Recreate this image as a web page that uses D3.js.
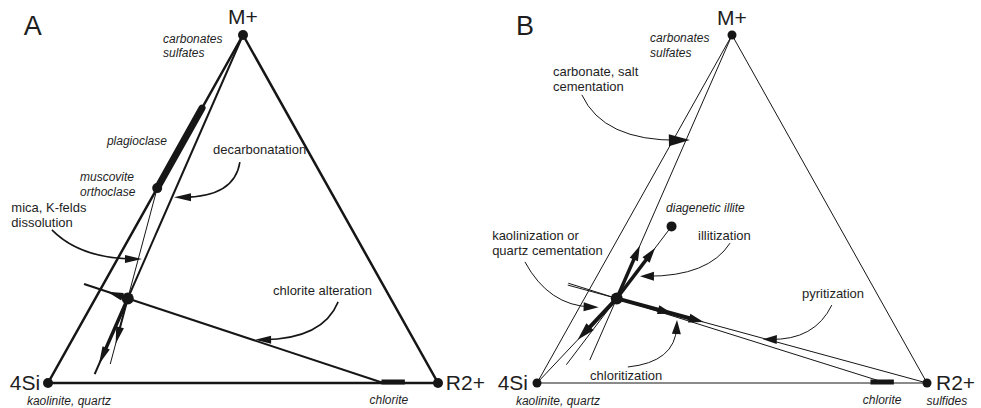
<!DOCTYPE html>
<html><head><meta charset="utf-8">
<script src="https://cdn.jsdelivr.net/npm/d3@7"></script>
<style>
body{margin:0;background:#fff}
svg{display:block}
text{font-family:"Liberation Sans",Arial,Helvetica,sans-serif;fill:#1e1e1e}
</style>
</head><body>
<svg id="chart" width="981" height="408"></svg>
<script>
// ---- Compositions, as [M+, R2+, 4Si] fractions ----
const M = [1, 0, 0];
const R = [0, 1, 0];
const S = [0, 0, 1];
const sample = [0.243, 0.083, 0.674];
const muscovite = [0.56, 0, 0.44];
const plagioclaseTop = [0.79, 0, 0.21];
const illite = [0.45, 0.12, 0.43];
const chloriteBar = [[0, 0.855, 0.145], [0, 0.915, 0.085]];
const chloriteA = [0, 0.86, 0.14];
const chloriteB = [0, 0.895, 0.105];

// Tie lines: from -> to, drawn over parameter range t
const tieLinesA = [
  {from: M, to: sample, t: [0, 1.287], w: 2},
  {from: muscovite, to: sample, t: [0, 1.595], w: 1},
  {from: chloriteA, to: sample, t: [0, 1.171], w: 2}
];
const tieLinesB = [
  {from: M, to: sample, t: [0, 1.234], w: 1},
  {from: S, to: sample, t: [0, 1], w: 1},
  {from: illite, to: sample, t: [0, 1.92], w: 1},
  {from: R, to: sample, t: [0, 1.158], w: 1},
  {from: chloriteB, to: sample, t: [0, 1.18], w: 1}
];

// Reaction vectors along tie lines (shaft from t0 to t1, heads at listed t)
const vectorsA = [
  {from: M, to: sample, t: [1, 1.25], heads: [1.25], w: 3.5, L: 18, h: 4},
  {from: muscovite, to: sample, t: [1, 1.41], heads: [1.41], w: 2, L: 17, h: 4},
  {from: chloriteA, to: sample, t: [1, 1.08], heads: [1.08], w: 3, L: 16, h: 4}
];
const vectorsB = [
  {from: sample, to: M, t: [0, 0.2], heads: [0.2], w: 3.5, L: 15, h: 4.5},
  {from: sample, to: illite, t: [0, 0.7], heads: [0.7], w: 3.5, L: 15, h: 4.5},
  {from: sample, to: S, t: [0, 0.49], heads: [0.49], w: 4, L: 18, h: 5},
  {from: sample, to: R, t: [0, 0.28], heads: [0.18, 0.28], w: 4, L: 15, h: 4.5}
];

// Labels
const vertexLabels = ["M+", "R2+", "4Si"];
const phaseLabelsA = ["carbonates", "sulfates", "plagioclase", "muscovite", "orthoclase", "kaolinite, quartz", "chlorite"];
const processLabelsA = ["decarbonatation", "mica, K-felds", "dissolution", "chlorite alteration"];
const phaseLabelsB = ["carbonates", "sulfates", "diagenetic illite", "kaolinite, quartz", "chlorite", "sulfides"];
const processLabelsB = ["carbonate, salt", "cementation", "illitization", "kaolinization or", "quartz cementation", "chloritization", "pyritization"];

// ---- Layout (plot units: u across the base, v up the height) ----
const panels = [
  {
    letter: "A", range: [48, 438], edgeW: 2.5, dotR: 5, sampleR: 6,
    tie: tieLinesA, vec: vectorsA,
    labels: [
      {t: "A", u: -0.062, v: 1.0, size: 27},
      {t: vertexLabels[0], u: 0.5, v: 1.032, size: 21, a: "middle"},
      {t: vertexLabels[1], u: 1.02, v: -0.02, size: 21},
      {t: vertexLabels[2], u: -0.02, v: -0.02, size: 21, a: "end"},
      {t: phaseLabelsA[0], u: 0.295, v: 0.977, it: 1},
      {t: phaseLabelsA[1], u: 0.295, v: 0.937, it: 1},
      {t: phaseLabelsA[2], u: 0.151, v: 0.684, it: 1},
      {t: phaseLabelsA[3], u: 0.082, v: 0.580, it: 1},
      {t: phaseLabelsA[4], u: 0.082, v: 0.537, it: 1},
      {t: phaseLabelsA[5], u: -0.054, v: -0.062, it: 1},
      {t: phaseLabelsA[6], u: 0.874, v: -0.060, it: 1, a: "middle"},
      {t: processLabelsA[0], u: 0.423, v: 0.658},
      {t: processLabelsA[1], u: -0.094, v: 0.491},
      {t: processLabelsA[2], u: -0.094, v: 0.448},
      {t: processLabelsA[3], u: 0.577, v: 0.253}
    ],
    curves: [
      {s: [0.492, 0.635], c: [0.478, 0.534], e: [0.323, 0.534], L: 17, h: 4},
      {s: [0.010, 0.440], c: [0.082, 0.358], e: [0.241, 0.356], L: 17, h: 4},
      {s: [0.744, 0.233], c: [0.705, 0.126], e: [0.531, 0.124], L: 16, h: 4}
    ],
    extras: "A"
  },
  {
    letter: "B", range: [537, 927], edgeW: 1, dotR: 4.5, sampleR: 6,
    tie: tieLinesB, vec: vectorsB,
    labels: [
      {t: "B", u: -0.054, v: 1.0, size: 27},
      {t: vertexLabels[0], u: 0.5, v: 1.029, size: 21, a: "middle"},
      {t: vertexLabels[1], u: 1.023, v: -0.02, size: 21},
      {t: vertexLabels[2], u: -0.023, v: -0.02, size: 21, a: "end"},
      {t: phaseLabelsB[0], u: 0.29, v: 0.980, it: 1},
      {t: phaseLabelsB[1], u: 0.29, v: 0.937, it: 1},
      {t: phaseLabelsB[2], u: 0.331, v: 0.491, it: 1},
      {t: phaseLabelsB[3], u: -0.054, v: -0.062, it: 1},
      {t: phaseLabelsB[4], u: 0.885, v: -0.060, it: 1, a: "middle"},
      {t: phaseLabelsB[5], u: 1.051, v: -0.062, it: 1, a: "middle"},
      {t: processLabelsB[0], u: 0.041, v: 0.882},
      {t: processLabelsB[1], u: 0.041, v: 0.839},
      {t: processLabelsB[2], u: 0.413, v: 0.411},
      {t: processLabelsB[3], u: -0.115, v: 0.411},
      {t: processLabelsB[4], u: -0.115, v: 0.368},
      {t: processLabelsB[5], u: 0.136, v: 0.009},
      {t: processLabelsB[6], u: 0.759, v: 0.244, a: "middle"}
    ],
    curves: [
      {s: [0.115, 0.828], c: [0.170, 0.695], e: [0.392, 0.698], L: 21, h: 6, w: 1},
      {s: [-0.031, 0.348], c: [0.030, 0.222], e: [0.158, 0.218], L: 15, h: 4.5, w: 1},
      {s: [0.495, 0.402], c: [0.440, 0.306], e: [0.264, 0.307], L: 14, h: 4.5, w: 1},
      {s: [0.233, 0.046], c: [0.354, 0.060], e: [0.359, 0.181], L: 14, h: 4.5, w: 1},
      {s: [0.756, 0.224], c: [0.712, 0.122], e: [0.579, 0.126], L: 14, h: 4.5, w: 1}
    ],
    extras: "B"
  }
];

const INK = "#161616";
const svg = d3.select("#chart");

function lerp(a, b, t) { return a.map((v, i) => v + t * (b[i] - v)); }

function headPoly(tip, dir, L, h) {
  const n = Math.hypot(dir[0], dir[1]);
  const d = [dir[0] / n, dir[1] / n];
  const p = [-d[1], d[0]];
  const bx = tip[0] - L * d[0], by = tip[1] - L * d[1];
  return [tip, [bx + h * p[0], by + h * p[1]], [bx - h * p[0], by - h * p[1]]];
}

panels.forEach(P => {
  const x = d3.scaleLinear().domain([0, 1]).range(P.range);
  const y = d3.scaleLinear().domain([0, 1]).range([383, 35]);
  const proj = c => [x(c[1] + c[0] / 2), y(c[0])];
  const uv = p => [x(p[0]), y(p[1])];
  const g = svg.append("g");
  const line = d3.line();

  // triangle frame
  g.append("path")
    .attr("d", line([proj(M), proj(R), proj(S)]) + "Z")
    .attr("fill", "none").attr("stroke", INK)
    .attr("stroke-width", P.edgeW).attr("stroke-linejoin", "miter");

  // tie lines
  g.selectAll(".tie").data(P.tie).join("path")
    .attr("d", d => line([proj(lerp(d.from, d.to, d.t[0])), proj(lerp(d.from, d.to, d.t[1]))]))
    .attr("stroke", INK).attr("stroke-width", d => d.w).attr("fill", "none");

  // composition ranges (bars)
  if (P.extras === "A") {
    g.append("path").attr("d", line([proj(muscovite), proj(plagioclaseTop)]))
      .attr("stroke", INK).attr("stroke-width", 7).attr("stroke-linecap", "round");
  }
  const cb0 = proj(chloriteBar[0]), cb1 = proj(chloriteBar[1]);
  g.append("rect").attr("x", cb0[0]).attr("y", cb0[1] - 3.5)
    .attr("width", cb1[0] - cb0[0]).attr("height", 5).attr("fill", INK);

  // reaction vectors
  P.vec.forEach(v => {
    const a = proj(lerp(v.from, v.to, v.t[0]));
    const b = proj(lerp(v.from, v.to, v.t[1]));
    const dir = [b[0] - a[0], b[1] - a[1]];
    const n = Math.hypot(dir[0], dir[1]);
    const bEnd = [b[0] - dir[0] / n * v.L * 0.6, b[1] - dir[1] / n * v.L * 0.6];
    g.append("path").attr("d", line([a, bEnd]))
      .attr("stroke", INK).attr("stroke-width", v.w).attr("fill", "none");
    v.heads.forEach(ht => {
      const tip = proj(lerp(v.from, v.to, ht));
      g.append("path").attr("d", line(headPoly(tip, dir, v.L, v.h)) + "Z").attr("fill", INK);
    });
  });

  // annotation arrows
  P.curves.forEach(c => {
    const s = uv(c.s), k = uv(c.c), e = uv(c.e);
    const dir = [e[0] - k[0], e[1] - k[1]];
    const n = Math.hypot(dir[0], dir[1]);
    const eEnd = [e[0] - dir[0] / n * c.L * 0.5, e[1] - dir[1] / n * c.L * 0.5];
    const p = d3.path();
    p.moveTo(s[0], s[1]);
    p.quadraticCurveTo(k[0], k[1], eEnd[0], eEnd[1]);
    g.append("path").attr("d", p.toString()).attr("fill", "none")
      .attr("stroke", INK).attr("stroke-width", c.w || 1.6);
    g.append("path").attr("d", line(headPoly(e, dir, c.L, c.h)) + "Z").attr("fill", INK);
  });

  // points
  const pts = [M, R, S].map(c => ({c, r: P.dotR}));
  pts.push({c: sample, r: P.sampleR});
  if (P.extras === "A") pts.push({c: muscovite, r: 5});
  if (P.extras === "B") pts.push({c: illite, r: 5});
  g.selectAll(".pt").data(pts).join("circle")
    .attr("cx", d => proj(d.c)[0]).attr("cy", d => proj(d.c)[1])
    .attr("r", d => d.r).attr("fill", INK);

  // labels
  g.selectAll(".lab").data(P.labels).join("text")
    .attr("x", d => x(d.u)).attr("y", d => y(d.v))
    .attr("text-anchor", d => d.a || "start")
    .attr("font-size", d => d.size || (d.it ? 12 : 13))
    .attr("font-style", d => d.it ? "italic" : "normal")
    .text(d => d.t);
});
</script>
</body></html>
